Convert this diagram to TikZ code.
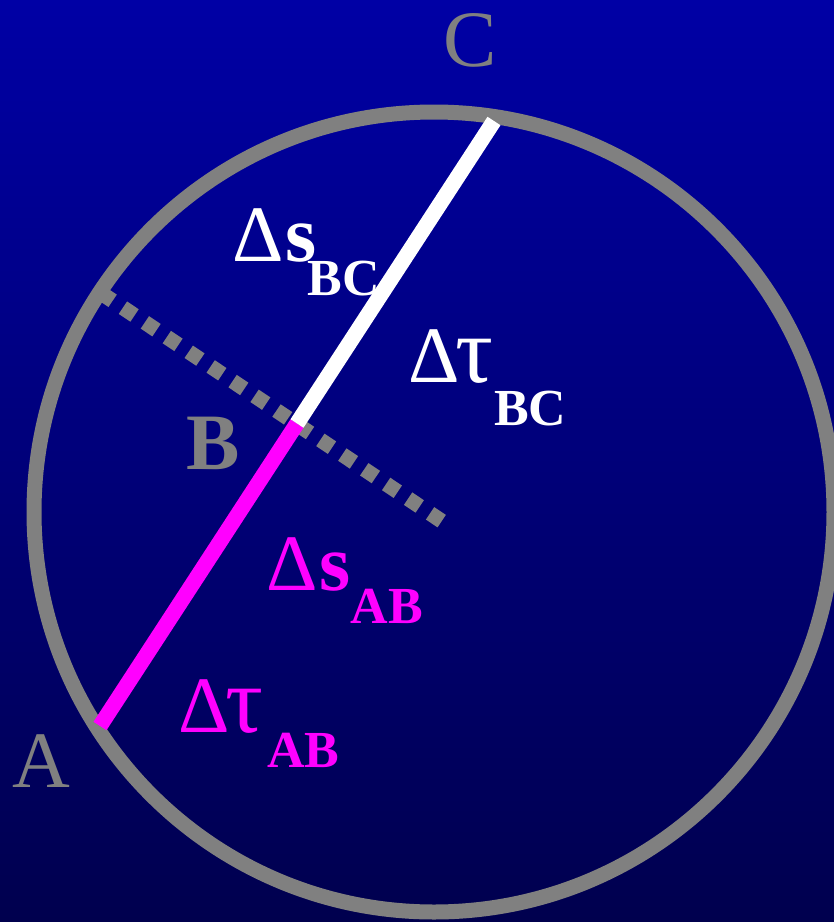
\documentclass[tikz,border=0pt]{standalone}
\usepackage{fontspec}
\usepackage{graphicx}
\setmainfont{Liberation Serif}
\definecolor{bgtop}{RGB}{0,0,165}
\definecolor{bgbot}{RGB}{0,0,78}
\definecolor{rimgray}{RGB}{128,128,128}
\definecolor{mag}{RGB}{255,0,255}
\newcommand{\bigf}{\fontsize{80}{80}\selectfont}
\newcommand{\subf}{\fontsize{52}{52}\selectfont\bfseries}
\newcommand{\tauglyph}{\scalebox{1.18}{τ}}
\begin{document}
\begin{tikzpicture}[x=1pt,y=-1pt,
  ptlabel/.style={text=rimgray, inner sep=0, anchor=base, font=\bigf},
  lbl/.style={inner sep=0, anchor=base west, font=\bigf},
  seg/.style={line width=15.5pt, line cap=butt},
  perp/.style={draw=rimgray, line width=15pt, dash pattern=on 14pt off 12.4pt}
]
\useasboundingbox (0,0) rectangle (834,922);
\shade[top color=bgtop, bottom color=bgbot] (0,0) rectangle (834,922);
\node[circle, draw=rimgray, line width=15pt, minimum size=800pt, inner sep=0] (rim) at (434,512) {};
\coordinate (A) at (100,726);
\coordinate (C) at (494,121);
\coordinate (B) at (297,423.5);
\coordinate (P1) at (101,293);
\coordinate (P2) at (443,522);
\draw[perp] (P1) -- (P2);
\draw[seg, draw=mag] (A) -- (B);
\draw[seg, draw=white] (B) -- (C);
\node[ptlabel] (lC) at (470,66) {C};
\node[ptlabel, font=\bigf\bfseries] (lB) at (213,469) {B};
\node[ptlabel] (lA) at (41,787) {A};
\node[lbl, text=white] (sBC) at (232,261) {\makebox[53.6pt][l]{Δ}\makebox[22pt][l]{\bfseries s}\raisebox{-34pt}{\subf BC}};
\node[lbl, text=white] (tBC) at (408,382) {\makebox[47pt][l]{Δ}\makebox[39pt][l]{\tauglyph}\raisebox{-43pt}{\subf BC}};
\node[lbl, text=mag] (sAB) at (266,590) {\makebox[53.6pt][l]{Δ}\makebox[31pt][l]{\bfseries s}\raisebox{-33pt}{\subf AB}};
\node[lbl, text=mag] (tAB) at (178,732) {\makebox[47pt][l]{Δ}\makebox[42pt][l]{\tauglyph}\raisebox{-35pt}{\subf AB}};
\end{tikzpicture}
\end{document}
